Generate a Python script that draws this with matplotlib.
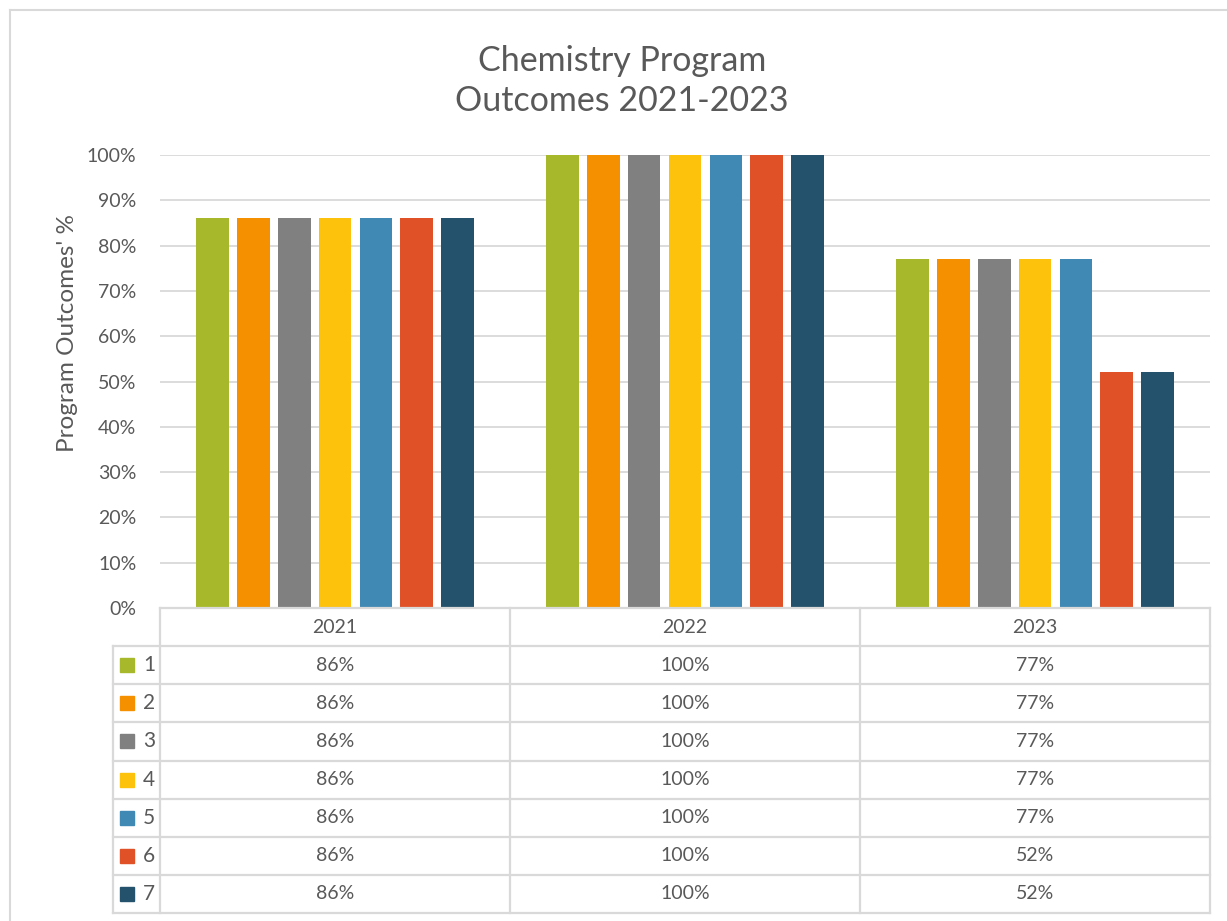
import matplotlib.pyplot as plt
from matplotlib.patches import Rectangle
from matplotlib.lines import Line2D

years = ['2021', '2022', '2023']
series_names = ['1', '2', '3', '4', '5', '6', '7']
outcome_2021 = [86, 86, 86, 86, 86, 86, 86]
outcome_2022 = [100, 100, 100, 100, 100, 100, 100]
outcome_2023 = [77, 77, 77, 77, 77, 52, 52]
colors = ['#A7B92A', '#F59100', '#808080', '#FDC20C', '#4189B5', '#E05128', '#24526C']

text_col = '#595959'
grid_col = '#D9D9D9'
plt.rcParams['font.family'] = ['Lato', 'DejaVu Sans']

W, H = 1227, 921


def fx(px):
    return px / W


def fy(py):
    return 1 - py / H


fig = plt.figure(figsize=(W / 100, H / 100), dpi=100)

# plot area
ax = fig.add_axes([fx(160), fy(608), (1210 - 160) / W, (608 - 155) / H])
ax.set_xlim(-0.5, 2.5)
ax.set_ylim(0, 100)
ticks = list(range(0, 101, 10))
ax.set_yticks(ticks)
ax.set_yticklabels([f'{t}%' for t in ticks], color=text_col, fontsize=14)
ax.tick_params(axis='y', length=0, pad=17)
ax.set_xticks([])
for s in ax.spines.values():
    s.set_visible(False)
ax.yaxis.grid(True, color=grid_col, lw=1.3)
ax.set_axisbelow(True)

values = list(zip(outcome_2021, outcome_2022, outcome_2023))
width = 0.094
step = 0.117
for k, (name, vals) in enumerate(zip(series_names, values)):
    xs = [i + (k - 3) * step for i in range(len(years))]
    ax.bar(xs, vals, width=width, color=colors[k], zorder=3)

# data table below
xl = -0.5 - 47 / 350
tax = fig.add_axes([fx(113), fy(913), (1210 - 113) / W, (913 - 608) / H])
tax.set_xlim(xl, 2.5)
tax.set_ylim(8, 0)
tax.axis('off')
lkw = dict(color=grid_col, lw=1.6, clip_on=False)
tax.plot([-0.5, 2.5], [0, 0], **lkw)
for r in range(1, 9):
    tax.plot([xl, 2.5], [r, r], **lkw)
for xv in [-0.5, 0.5, 1.5, 2.5]:
    tax.plot([xv, xv], [0, 8], **lkw)
tax.plot([xl, xl], [1, 8], **lkw)

for i, y in enumerate(years):
    tax.text(i, 0.5, y, ha='center', va='center', color=text_col, fontsize=14)
for k, vals in enumerate(values):
    for i, v in enumerate(vals):
        tax.text(i, k + 1.5, f'{v}%', ha='center', va='center', color=text_col, fontsize=14)
    sq_h = 14 / 38.1
    tax.add_patch(Rectangle((-0.614, k + 1.5 - sq_h / 2), 0.04, sq_h, color=colors[k], clip_on=False))
    tax.text(-0.531, k + 1.5, series_names[k], ha='center', va='center', color=text_col, fontsize=15)

# title, two lines
fig.text(fx(622), fy(71), 'Chemistry Program', ha='center', va='baseline',
         fontsize=24.5, color=text_col)
fig.text(fx(622), fy(111), 'Outcomes 2021-2023', ha='center', va='baseline',
         fontsize=24.5, color=text_col)
fig.text(fx(68), fy(333), "Program Outcomes' %", ha='center', va='center', rotation=90,
         fontsize=17.5, color=text_col)

# chart border
fig.add_artist(Line2D([fx(10), fx(10)], [0, fy(10)], color=grid_col, lw=1.5))
fig.add_artist(Line2D([fx(10), 1], [fy(10), fy(10)], color=grid_col, lw=1.5))

fig.savefig('out.png', dpi=100)
